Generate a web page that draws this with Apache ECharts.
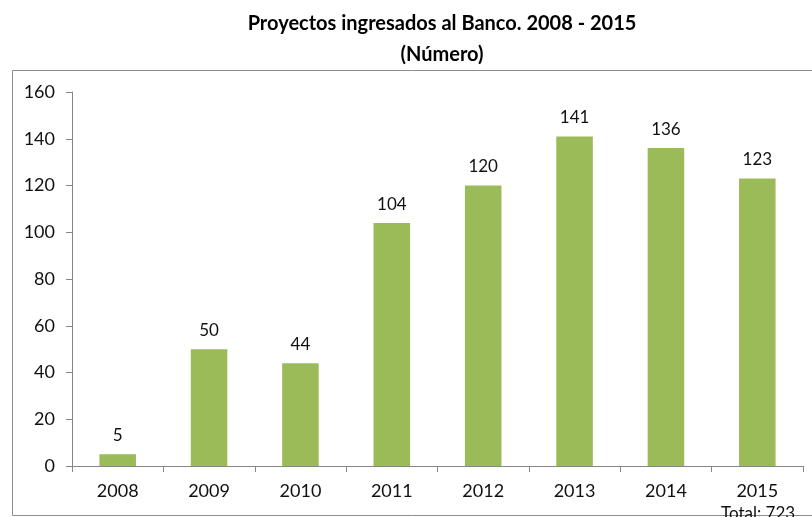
<!DOCTYPE html>
<html>
<head>
<meta charset="utf-8">
<script src="https://cdn.jsdelivr.net/npm/echarts@6/dist/echarts.min.js"></script>
<style>
html, body { margin: 0; padding: 0; background: #fff; }
#chart { width: 812px; height: 517px; }
</style>
</head>
<body>
<div id="chart"></div>
<script>
// datos del gráfico
var years = ['2008', '2009', '2010', '2011', '2012', '2013', '2014', '2015'];
var proyectos = [5, 50, 44, 104, 120, 141, 136, 123];
var totalText = 'Total: 723';

var myChart = echarts.init(document.getElementById('chart'));
var font = 'Lato, "Open Sans", sans-serif';

var option = {
	animation: false,
	title: [{
		text: 'Proyectos ingresados al Banco. 2008 - 2015',
		left: 437,
		top: 9,
		textAlign: 'center',
		textStyle: { fontFamily: font, fontSize: 20, fontWeight: 'bold', color: '#000' }
	}, {
		text: '(Número)',
		left: 437,
		top: 40,
		textAlign: 'center',
		textStyle: { fontFamily: font, fontSize: 20, fontWeight: 'bold', color: '#000' }
	}],
	graphic: [{
		type: 'rect',
		shape: { x: 12.5, y: 70.5, width: 820, height: 445 },
		style: { fill: 'none', stroke: '#8c8c8c', lineWidth: 1 },
		silent: true
	}, {
		type: 'text',
		left: 721,
		top: 505,
		style: { text: totalText, font: '17px ' + font, fill: '#111' },
		silent: true
	}],
	grid: {
		left: 72,
		right: 9,
		top: 92,
		bottom: 51
	},
	xAxis: {
		type: 'category',
		data: years,
		axisLine: { lineStyle: { color: '#868686' } },
		axisTick: { show: true, alignWithLabel: false, length: 6, lineStyle: { color: '#868686' } },
		axisLabel: { fontFamily: font, fontSize: 18, color: '#111', margin: 16 }
	},
	yAxis: {
		type: 'value',
		min: 0,
		max: 160,
		interval: 20,
		splitLine: { show: false },
		axisLine: { show: true, lineStyle: { color: '#868686' } },
		axisTick: { show: true, length: 6, lineStyle: { color: '#868686' } },
		axisLabel: { fontFamily: font, fontSize: 18, color: '#111', margin: 17 }
	},
	series: [{
		name: 'Proyectos',
		type: 'bar',
		data: proyectos,
		barWidth: '40%',
		itemStyle: { color: '#9BBB59' },
		label: {
			show: true,
			position: 'top',
			distance: 10,
			fontFamily: font,
			fontSize: 17,
			color: '#111'
		}
	}]
};

myChart.setOption(option);
</script>
</body>
</html>
